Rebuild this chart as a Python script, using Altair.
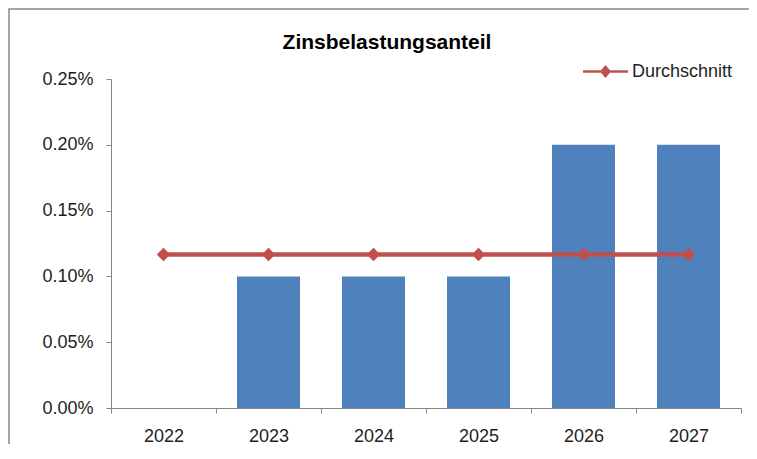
import altair as alt
import pandas as pd

# ---- data ----
years = ["2022", "2023", "2024", "2025", "2026", "2027"]
shares = [0.0, 0.0010, 0.0010, 0.0010, 0.0020, 0.0020]          # Zinsbelastungsanteil
average = [0.001167, 0.001167, 0.001167, 0.001167, 0.001167, 0.001167]  # Durchschnitt
series_names = ["Durchschnitt"] * 6
y_ticks = [0.0, 0.0005, 0.0010, 0.0015, 0.0020, 0.0025]

df = pd.DataFrame({"Jahr": years, "Anteil": shares, "Schnitt": average, "Serie": series_names})

FONT = "Liberation Sans"
GRAY = "#868686"
TXT = "#1e1e1e"
BLUE = "#4F81BD"
RED = "#C0504D"

x_enc = alt.X(
    "Jahr:N", sort=years, title=None,
    scale=alt.Scale(paddingInner=0, paddingOuter=0),
    axis=alt.Axis(labelAngle=0, tickBand="extent", tickSize=5, labelPadding=14,
                  domainColor=GRAY, tickColor=GRAY, labelFontSize=18,
                  labelColor=TXT, labelFont=FONT, grid=False),
)
y_scale = alt.Scale(domain=[0, 0.0025], nice=False, zero=True)
y_axis = alt.Axis(values=y_ticks, format=".2%", grid=False, tickSize=5, labelPadding=13,
                  domainColor=GRAY, tickColor=GRAY, labelFontSize=18, labelColor=TXT,
                  labelFont=FONT)

base = alt.Chart(df)

bars = base.mark_bar(color=BLUE, width=alt.RelativeBandSize(0.6)).encode(
    x=x_enc,
    y=alt.Y("Anteil:Q", scale=y_scale, axis=y_axis, title=None),
)

line = base.mark_line(color=RED, strokeWidth=4.5).encode(
    x=x_enc,
    y=alt.Y("Schnitt:Q", scale=y_scale, title=None),
)

legend_path = "M-1,-0.055H1V0.055H-1Z M0,-0.29L0.244,0L0,0.29L-0.244,0Z"

points = base.mark_point(shape="diamond", filled=True, size=180, opacity=1).encode(
    x=x_enc,
    y=alt.Y("Schnitt:Q", scale=y_scale, title=None),
    color=alt.Color(
        "Serie:N",
        scale=alt.Scale(range=[RED]),
        legend=alt.Legend(title=None, orient="none", legendX=472, legendY=-30,
                          symbolType=legend_path, symbolSize=2025, symbolStrokeWidth=0,
                          labelFontSize=18, labelFont=FONT, labelColor=TXT,
                          labelOffset=4, padding=0),
    ),
)

border = alt.Chart(alt.Data(values=[{"k": 1}])).mark_rect(
    fill="transparent", stroke=GRAY, strokeWidth=1.5
).encode(
    x=alt.value(-102), x2=alt.value(700), y=alt.value(-70), y2=alt.value(420)
)

chart = alt.layer(border, bars, line, points).properties(
    width=630,
    height=329,
    background="white",
    autosize=alt.AutoSizeParams(type="none"),
    padding={"left": 103, "top": 71, "right": 8, "bottom": 36},
    title=alt.TitleParams("Zinsbelastungsanteil", fontSize=21, fontWeight="bold",
                          font=FONT, color="#000000", anchor="middle", frame="group",
                          dx=-39, offset=-62, baseline="alphabetic"),
).configure_view(stroke=None)

chart.save("out.html", embed_options={"renderer": "svg", "actions": False})
